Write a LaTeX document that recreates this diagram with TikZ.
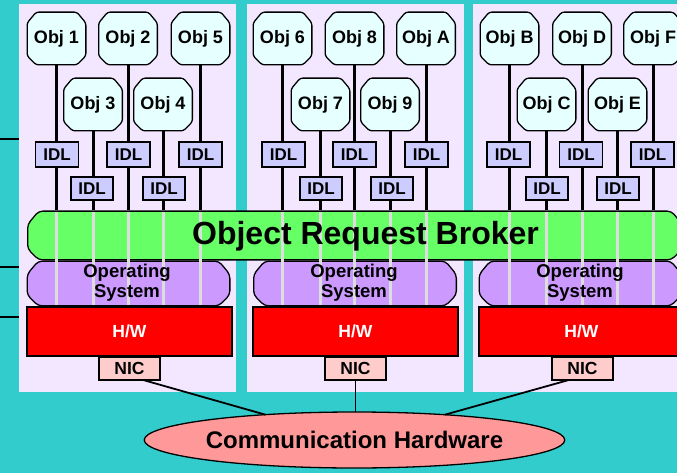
\documentclass[tikz,border=0pt]{standalone}
\usepackage{fontspec}
\setmainfont{Liberation Sans}
\usetikzlibrary{shapes.geometric,calc}
\definecolor{bgteal}{HTML}{33CCCC}
\definecolor{panelc}{HTML}{F3E6FF}
\definecolor{objc}{HTML}{E6FFFF}
\definecolor{idlc}{HTML}{CCCCFF}
\definecolor{orbc}{HTML}{66FF66}
\definecolor{osc}{HTML}{CC99FF}
\definecolor{hwc}{HTML}{FF0000}
\definecolor{nicc}{HTML}{FFCCCC}
\definecolor{commc}{HTML}{FF9999}
\definecolor{grayline}{HTML}{DDDDDD}
\begin{document}
\begin{tikzpicture}[x=1pt,y=-1pt,
  every node/.style={inner sep=0pt, outer sep=0pt},
  panel/.style={fill=panelc, draw=none, minimum width=217pt, minimum height=388pt},
  oct/.style n args={3}{rectangle, path picture={
    \path[draw=black, fill=#1, line width=1.3pt, rounded corners=#3]
      let \p1=(path picture bounding box.north west), \p2=(path picture bounding box.south east) in
      ({(\x1+\x2)/2},{\y1-0.65pt}) -- ({\x2-0.65pt-#2},{\y1-0.65pt}) -- ({\x2-0.65pt},{\y1-0.65pt-1.2*#2})
      -- ({\x2-0.65pt},{\y2+0.65pt+#2}) -- ({\x2-0.65pt-#2},{\y2+0.65pt}) -- ({\x1+0.65pt+#2},{\y2+0.65pt})
      -- ({\x1+0.65pt},{\y2+0.65pt+#2}) -- ({\x1+0.65pt},{\y1-0.65pt-1.2*#2}) -- ({\x1+0.65pt+#2},{\y1-0.65pt}) -- cycle;
  }},
  objbox/.style={oct={objc}{9pt}{2.5pt}, minimum width=60pt, minimum height=54pt,
    font=\fontsize{18}{18}\selectfont\bfseries},
  idlbox/.style={draw=black, line width=1.3pt, fill=idlc, font=\fontsize{17}{17}\selectfont\bfseries},
  upidl/.style={idlbox, minimum width=43pt, minimum height=25pt},
  loidl/.style={idlbox, minimum width=42pt, minimum height=23pt},
  osbox/.style={oct={osc}{11pt}{4pt}, minimum width=204pt, minimum height=46pt},
  ostext/.style={align=center, font=\fontsize{18.5}{20}\selectfont\bfseries},
  hwbox/.style={draw=black, line width=1.3pt, fill=hwc, minimum width=205pt, minimum height=49pt,
    text=white, font=\fontsize{17.5}{17.5}\selectfont\bfseries},
  nicbox/.style={draw=black, line width=1.3pt, fill=nicc, minimum width=61pt, minimum height=23pt,
    font=\fontsize{17.5}{17.5}\selectfont\bfseries},
  link/.style={line width=3pt, black},
  glink/.style={line width=3pt, grayline},
  wire/.style={line width=1.8pt, black}
]
\useasboundingbox (0,0) rectangle (677,473);
\clip (0,0) rectangle (677,473);
\fill[bgteal] (0,0) rectangle (677,473);

% panels
\node[panel] (panel1) at (127.5,198) {};
\node[panel] (panel2) at (355.5,198) {};
\node[panel] (panel3) at (581.5,198) {};

% left stubs
\coordinate (s1) at (0,139);
\coordinate (s2) at (0,267);
\coordinate (s3) at (0,317);
\foreach \s in {s1,s2,s3} \draw[wire,line width=1.5pt] (\s) -- (\s -| panel1.west);

% objects
\node[objbox] (obj1) at (56.5,38.5) {Obj 1};
\node[objbox] (obj2) at (128,38.5) {Obj 2};
\node[objbox] (obj5) at (200.5,38.5) {Obj 5};
\node[objbox] (obj3) at (93,104.5) {Obj 3};
\node[objbox] (obj4) at (163,104.5) {Obj 4};

\node[objbox] (obj6) at (282.5,38.5) {Obj 6};
\node[objbox] (obj8) at (354.5,38.5) {Obj 8};
\node[objbox] (objA) at (426,38.5) {Obj A};
\node[objbox] (obj7) at (320.5,104.5) {Obj 7};
\node[objbox] (obj9) at (390,104.5) {Obj 9};

\node[objbox] (objB) at (509.5,38.5) {Obj B};
\node[objbox] (objD) at (582,38.5) {Obj D};
\node[objbox] (objF) at (653,38.5) {Obj F};
\node[objbox] (objC) at (546.5,104.5) {Obj C};
\node[objbox] (objE) at (617.5,104.5) {Obj E};

% IDLs
\node[upidl] (ia1) at (57,154.5) {IDL};
\node[upidl] (ia2) at (128.5,154.5) {IDL};
\node[upidl] (ia3) at (200.5,154.5) {IDL};
\node[loidl] (ib1) at (92,188.5) {IDL};
\node[loidl] (ib2) at (164,188.5) {IDL};

\node[upidl] (ia4) at (283.5,154.5) {IDL};
\node[upidl] (ia5) at (354.5,154.5) {IDL};
\node[upidl] (ia6) at (426.5,154.5) {IDL};
\node[loidl] (ib3) at (321,188.5) {IDL};
\node[loidl] (ib4) at (392,188.5) {IDL};

\node[upidl] (ia7) at (508.5,154.5) {IDL};
\node[upidl] (ia8) at (581,154.5) {IDL};
\node[upidl] (ia9) at (652.5,154.5) {IDL};
\node[loidl] (ib5) at (547,188.5) {IDL};
\node[loidl] (ib6) at (618,188.5) {IDL};

% ORB and OS shapes
\node[oct={orbc}{11pt}{4pt}, minimum width=656pt, minimum height=50pt] (orb) at (355,235.5) {};
\node[osbox] (os1) at (128.5,283.5) {};
\node[osbox] (os2) at (355,283.5) {};
\node[osbox] (os3) at (580.5,283.5) {};

% H/W
\node[hwbox] (hw1) at (129.5,331.5) {H/W};
\node[hwbox] (hw2) at (355.5,331.5) {H/W};
\node[hwbox] (hw3) at (581.5,331.5) {H/W};

% NIC
\node[nicbox] (nic1) at (129.5,368.5) {NIC};
\node[nicbox] (nic2) at (355.5,368.5) {NIC};
\node[nicbox] (nic3) at (582.5,368.5) {NIC};

% communication hardware
\node[ellipse, draw=black, line width=1.3pt, fill=commc, minimum width=347pt, minimum height=56pt,
  font=\fontsize{24}{24}\selectfont\bfseries] (comm) at (354.5,440) {Communication Hardware};

% object -> IDL -> ORB (black), through ORB/OS (gray)
\foreach \o/\i/\s in {obj1/ia1/os1, obj2/ia2/os1, obj5/ia3/os1, obj3/ib1/os1, obj4/ib2/os1,
                      obj6/ia4/os2, obj8/ia5/os2, objA/ia6/os2, obj7/ib3/os2, obj9/ib4/os2,
                      objB/ia7/os3, objD/ia8/os3, objF/ia9/os3, objC/ib5/os3, objE/ib6/os3} {
  \draw[link] (\o.south) -- (\o.south |- \i.north);
  \draw[link] (\o.south |- \i.south) -- (\o.south |- orb.north);
  \draw[glink] ($(\o.south |- orb.north)+(0,1.3)$) -- ($(\o.south |- \s.south)+(0,-1.3)$);
}

% texts over the gray lines
\node[font=\fontsize{32}{32}\selectfont\bfseries, anchor=base] (orbtext) at (365.5,244) {Object Request Broker};
\node[ostext] (ost1) at (127,283) {Operating\\System};
\node[ostext] (ost2) at (354,283) {Operating\\System};
\node[ostext] (ost3) at (580,283) {Operating\\System};

% NIC -> communication hardware
\draw[wire] (nic1.-40) -- (comm);
\draw[wire] (nic2.south) -- (nic2.south |- comm.north);
\draw[wire] (nic3.-140) -- (comm);
\end{tikzpicture}
\end{document}
